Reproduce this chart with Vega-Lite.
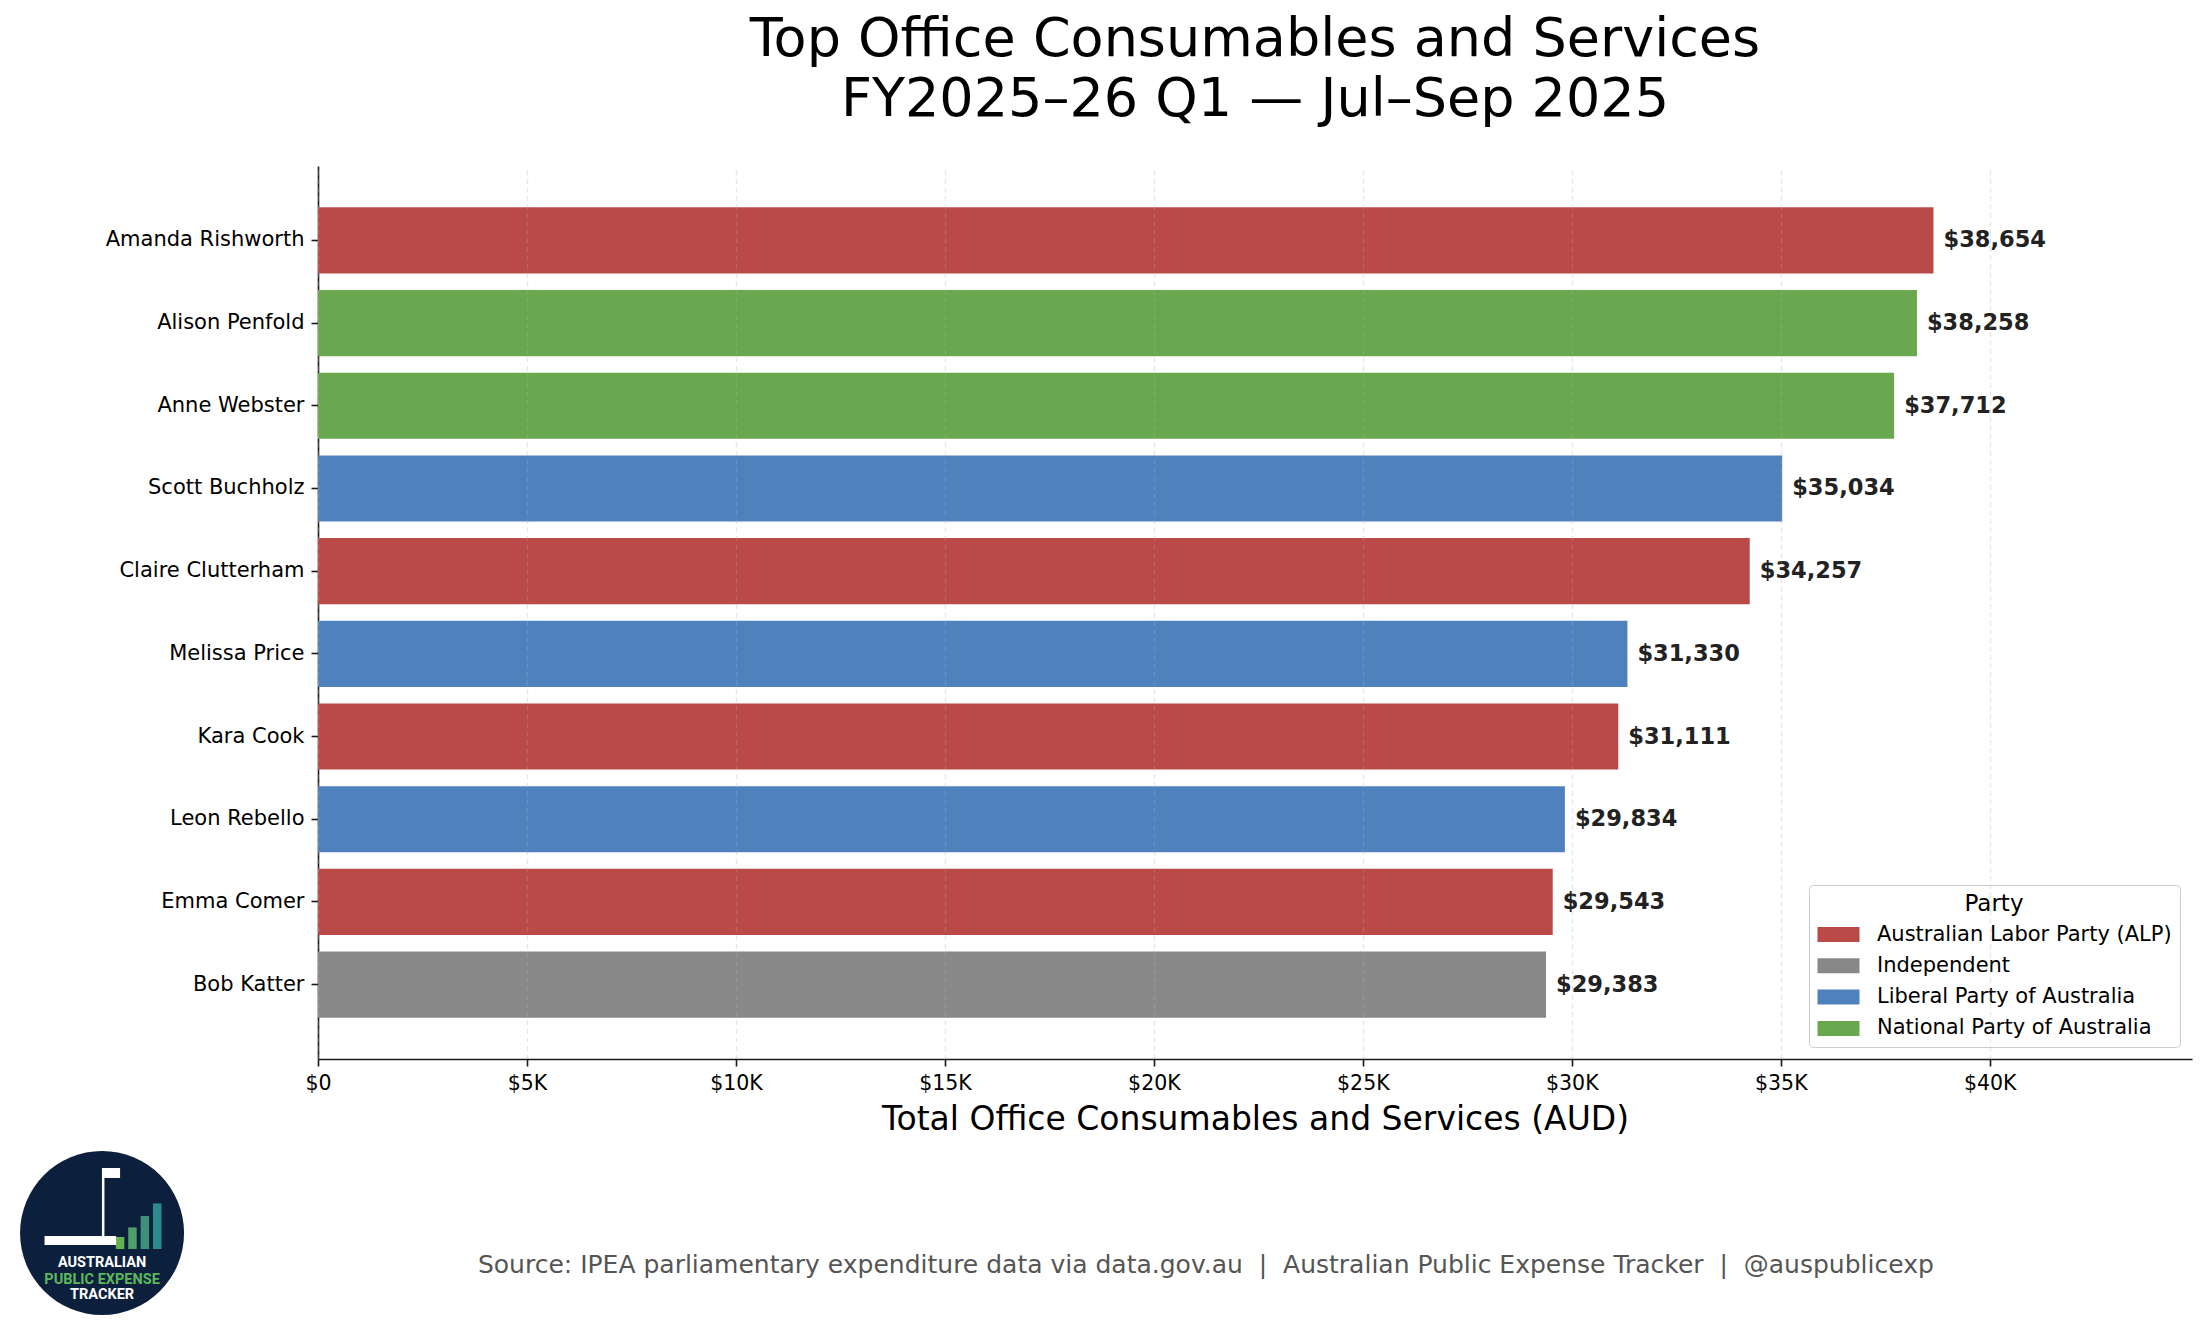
{
  "$schema": "https://vega.github.io/schema/vega-lite/v6.json",
  "width": 1874,
  "height": 893,
  "autosize": {"type": "none"},
  "padding": {"left": 318, "top": 166, "right": 13, "bottom": 278},
  "background": "white",
  "config": {
    "view": {"stroke": null},
    "font": "DejaVu Sans"
  },
  "title": {
    "text": ["Top Office Consumables and Services", "FY2025–26 Q1 — Jul–Sep 2025"],
    "font": "DejaVu Sans",
    "fontSize": 54,
    "fontWeight": "normal",
    "color": "black",
    "anchor": "middle",
    "baseline": "bottom",
    "lineHeight": 60,
    "offset": -15
  },
  "layer": [
    {
      "data": {
        "values": [
          {"name": "Amanda Rishworth", "party": "Australian Labor Party (ALP)", "amount": 38654},
          {"name": "Alison Penfold", "party": "National Party of Australia", "amount": 38258},
          {"name": "Anne Webster", "party": "National Party of Australia", "amount": 37712},
          {"name": "Scott Buchholz", "party": "Liberal Party of Australia", "amount": 35034},
          {"name": "Claire Clutterham", "party": "Australian Labor Party (ALP)", "amount": 34257},
          {"name": "Melissa Price", "party": "Liberal Party of Australia", "amount": 31330},
          {"name": "Kara Cook", "party": "Australian Labor Party (ALP)", "amount": 31111},
          {"name": "Leon Rebello", "party": "Liberal Party of Australia", "amount": 29834},
          {"name": "Emma Comer", "party": "Australian Labor Party (ALP)", "amount": 29543},
          {"name": "Bob Katter", "party": "Independent", "amount": 29383}
        ]
      },
      "encoding": {
        "y": {
          "field": "name",
          "type": "nominal",
          "sort": null,
          "scale": {"paddingInner": 0.2, "paddingOuter": 0.5},
          "axis": {
            "title": null,
            "domainColor": "#1a1a1a",
            "domainWidth": 1.6,
            "tickColor": "#1a1a1a",
            "tickWidth": 1.6,
            "tickSize": 7,
            "labelPadding": 7,
            "labelFontSize": 21,
            "labelColor": "black",
            "labelFont": "DejaVu Sans",
            "labelLimit": 400,
            "grid": false
          }
        },
        "x": {
          "field": "amount",
          "type": "quantitative",
          "scale": {"domain": [0, 44839], "nice": false, "zero": true},
          "axis": {
            "title": "Total Office Consumables and Services (AUD)",
            "titleFontSize": 33,
            "titleFontWeight": "normal",
            "titleColor": "black",
            "titleFont": "DejaVu Sans",
            "titlePadding": 10,
            "values": [0, 5000, 10000, 15000, 20000, 25000, 30000, 35000, 40000],
            "labelExpr": "datum.value == 0 ? '$0' : '$' + (datum.value / 1000) + 'K'",
            "labelFontSize": 20.5,
            "labelColor": "black",
            "labelFont": "DejaVu Sans",
            "labelPadding": 7,
            "labelFlush": false,
            "domainColor": "#1a1a1a",
            "domainWidth": 1.6,
            "tickColor": "#1a1a1a",
            "tickWidth": 1.6,
            "tickSize": 7,
            "grid": true,
            "gridColor": "#b0b0b0",
            "gridOpacity": 0.3,
            "gridWidth": 1.4,
            "gridDash": [5, 3.5],
            "zindex": 1
          }
        }
      },
      "layer": [
        {
          "mark": {"type": "bar"},
          "encoding": {
            "color": {
              "field": "party",
              "type": "nominal",
              "scale": {
                "domain": ["Australian Labor Party (ALP)", "Independent", "Liberal Party of Australia", "National Party of Australia"],
                "range": ["#b94a48", "#888888", "#4f81bd", "#6aa84f"]
              },
              "legend": {
                "orient": "bottom-right",
                "offset": 12,
                "title": "Party",
                "titleFont": "DejaVu Sans",
                "titleFontSize": 23,
                "titleFontWeight": "normal",
                "titleColor": "black",
                "titleAnchor": "middle",
                "titlePadding": 8,
                "labelFont": "DejaVu Sans",
                "labelFontSize": 21,
                "labelColor": "black",
                "labelLimit": 400,
                "labelOffset": 28,
                "symbolType": "M-2.1,-0.75L2.1,-0.75L2.1,0.75L-2.1,0.75Z",
                "symbolSize": 400,
                "symbolOffset": 11,
                "symbolStrokeWidth": 0,
                "symbolOpacity": 1,
                "rowPadding": 9.3,
                "padding": 8,
                "fillColor": "rgba(255,255,255,0.8)",
                "strokeColor": "#cccccc",
                "cornerRadius": 4
              }
            }
          }
        },
        {
          "mark": {
            "type": "text",
            "align": "left",
            "baseline": "middle",
            "dx": 10,
            "fontSize": 22.5,
            "fontWeight": "bold",
            "font": "DejaVu Sans",
            "color": "#222222"
          },
          "encoding": {
            "text": {"field": "amount", "type": "quantitative", "format": "$,.0f"}
          }
        }
      ]
    },
    {
      "data": {"values": [{"note": "Source: IPEA parliamentary expenditure data via data.gov.au \u00a0|\u00a0 Australian Public Expense Tracker \u00a0|\u00a0 @auspublicexp"}]},
      "mark": {"type": "text", "align": "center", "baseline": "alphabetic", "fontSize": 25, "font": "DejaVu Sans", "color": "#555555"},
      "encoding": {
        "x": {"datum": 21244, "type": "quantitative", "scale": {"domain": [0, 44839], "nice": false}, "axis": null},
        "y": {"datum": -0.2397, "type": "quantitative", "scale": {"domain": [0, 1], "nice": false}, "axis": null},
        "text": {"field": "note"}
      }
    },
    {
      "data": {"values": [{"logo": "Australian Public Expense Tracker"}]},
      "mark": {"type": "point", "shape": "circle", "filled": true, "size": 26900, "color": "#0c1f3d", "opacity": 1},
      "encoding": {
        "x": {"datum": -5167, "type": "quantitative", "scale": {"domain": [0, 44839], "nice": false}, "axis": null},
        "y": {"datum": -0.1949, "type": "quantitative", "scale": {"domain": [0, 1], "nice": false}, "axis": null}
      }
    },
    {
      "encoding": {
        "x": {"type": "quantitative", "scale": {"domain": [17.386, 167.91], "nice": false, "zero": false}, "axis": null},
        "y": {"type": "quantitative", "scale": {"domain": [15.834, 90.25], "nice": false, "zero": false}, "axis": null}
      },
      "layer": [
        {
          "data": {"values": [{"step": 1, "level": 1}, {"step": 2, "level": 1.8}, {"step": 3, "level": 2.75}, {"step": 4, "level": 3.8}]},
          "mark": {"type": "bar", "orient": "vertical", "size": 8.5},
          "encoding": {
            "x": {"field": "step", "type": "quantitative"},
            "y": {"field": "level", "type": "quantitative"},
            "y2": {"datum": 0},
            "color": {"field": "step", "type": "ordinal", "scale": {"range": ["#66b04f", "#4f9f68", "#3f9079", "#2b8a8c"]}, "legend": null}
          }
        },
        {
          "data": {"values": [{"part": "building"}]},
          "mark": {"type": "rect", "color": "white"},
          "encoding": {
            "x": {"datum": -5.1},
            "x2": {"datum": 0.68},
            "y": {"datum": 0.33},
            "y2": {"datum": 1.08}
          }
        },
        {
          "data": {"values": [{"part": "flagpole"}]},
          "mark": {"type": "rule", "color": "white", "strokeWidth": 2.5},
          "encoding": {
            "x": {"datum": -0.365},
            "y": {"datum": 0.9},
            "y2": {"datum": 6.75}
          }
        },
        {
          "data": {"values": [{"part": "flag"}]},
          "mark": {"type": "rect", "color": "white"},
          "encoding": {
            "x": {"datum": -0.3},
            "x2": {"datum": 1.0},
            "y": {"datum": 5.92},
            "y2": {"datum": 6.75}
          }
        }
      ]
    },
    {
      "data": {"values": [{"line": "AUSTRALIAN"}]},
      "mark": {"type": "text", "align": "center", "baseline": "alphabetic", "fontSize": 14.5, "fontWeight": "bold", "font": "Roboto", "color": "white"},
      "encoding": {
        "x": {"datum": -5167, "type": "quantitative", "scale": {"domain": [0, 44839], "nice": false}, "axis": null},
        "y": {"datum": -0.2329, "type": "quantitative", "scale": {"domain": [0, 1], "nice": false}, "axis": null},
        "text": {"field": "line"}
      }
    },
    {
      "data": {"values": [{"line": "PUBLIC EXPENSE"}]},
      "mark": {"type": "text", "align": "center", "baseline": "alphabetic", "fontSize": 14.5, "fontWeight": "bold", "font": "Roboto", "color": "#5cb85c"},
      "encoding": {
        "x": {"datum": -5167, "type": "quantitative", "scale": {"domain": [0, 44839], "nice": false}, "axis": null},
        "y": {"datum": -0.252, "type": "quantitative", "scale": {"domain": [0, 1], "nice": false}, "axis": null},
        "text": {"field": "line"}
      }
    },
    {
      "data": {"values": [{"line": "TRACKER"}]},
      "mark": {"type": "text", "align": "center", "baseline": "alphabetic", "fontSize": 14.5, "fontWeight": "bold", "font": "Roboto", "color": "white"},
      "encoding": {
        "x": {"datum": -5167, "type": "quantitative", "scale": {"domain": [0, 44839], "nice": false}, "axis": null},
        "y": {"datum": -0.2688, "type": "quantitative", "scale": {"domain": [0, 1], "nice": false}, "axis": null},
        "text": {"field": "line"}
      }
    }
  ],
  "resolve": {"scale": {"x": "independent", "y": "independent", "color": "independent"}}
}
